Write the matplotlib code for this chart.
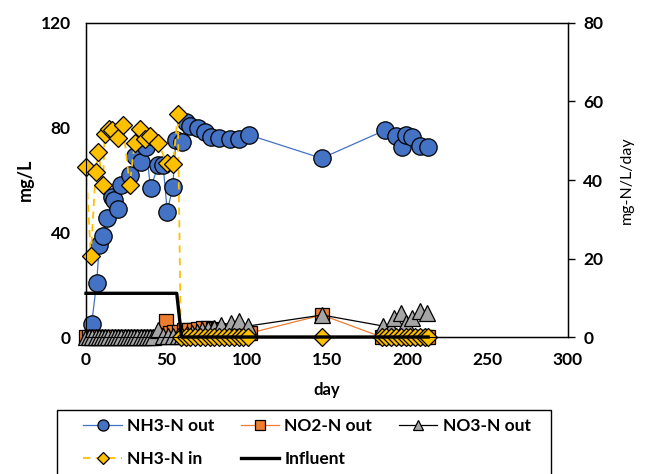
import numpy as np
import matplotlib.pyplot as plt
from matplotlib.lines import Line2D
from matplotlib.patches import Rectangle

plt.rcParams['font.family'] = ['Lato', 'DejaVu Sans']

# NH3-N out (blue circles)
nh3_out_day = [3.5, 6.6, 8.3, 10.4, 13.3, 16, 17.5, 20, 22, 27.4, 30.5, 34.2, 37.3, 40.2,
               45, 48, 50.6, 54, 56, 60, 62, 65, 70, 74, 78, 83, 89.6, 95, 101.6,
               146.7, 186, 193, 196.5, 199.5, 202.7, 208, 213]
nh3_out_val = [5, 20.6, 35, 38.7, 45.4, 53.6, 52.3, 49, 58, 62, 69, 67, 72.7, 56.8,
               65.7, 65.7, 47.9, 57.4, 75.3, 74.6, 82, 80.5, 79.7, 78.5, 76.5, 76, 75.5, 75.7, 77.2,
               68.3, 79, 76.8, 72.7, 77.2, 76.5, 73, 72.7]

# NO2-N out (orange squares)
no2_day = list(range(0, 48, 2)) + [50, 52, 55, 58, 61, 64, 67, 70, 73, 76, 79, 82, 86, 90, 94, 98, 102,
                                   147] + [184, 187, 190, 193, 196, 199, 202, 205, 208, 211, 213]
no2_val = [0] * 24 + [6, 1.5, 2, 2, 2.5, 2.5, 2.7, 3, 3.3, 3.5, 3, 2.5, 2, 2, 1.5, 1.5, 1.5,
                      8.4] + [0] * 11

# NO3-N out (gray triangles)
no3_day = list(range(0, 44, 2)) + [45, 48, 51, 54, 57, 60, 63, 66, 69, 72, 76, 80, 84, 90, 95, 101,
                                   147, 185, 190, 192, 196, 199.5, 202.7, 208, 212]
no3_val = [0] * 22 + [2.5, 0.5, 0.5, 0.5, 0.5, 0.5, 1, 1.5, 2, 2.7, 3, 3.4, 4.6, 5.3, 6, 4.2,
                      8.4, 4.2, 3.4, 7.2, 9.2, 5.4, 7.2, 9.9, 9.2]

# NH3-N in (yellow diamonds)
nh3_in_day = [0, 3, 6, 7.7, 10.6, 11.6, 14.2, 16, 19.8, 23, 27.2, 30.3, 33.6, 37, 39.8, 45, 50.2, 54.2, 57.2,
              59, 62, 65, 68, 71, 74, 77, 80, 83, 86, 89, 92, 95, 98, 101,
              147, 184, 187, 190, 193, 196, 199, 202, 205, 208, 211, 213]
nh3_in_val = [65, 31, 63, 70.8, 58, 77.5, 79.5, 79, 76, 81, 58, 74, 79.4, 75.5, 77, 74.3, 66.4, 66, 85.3] + [0] * 15 + \
             [0] + [0] * 11

# Influent
infl_day = [0, 56.5, 59.5, 213]
infl_val = [16.7, 16.7, 0, 0]

fig = plt.figure(figsize=(6.49, 4.74), dpi=100)
ax = fig.add_axes([0.1325, 0.289, 0.7425, 0.6625])

blue = '#4472C4'
orange = '#ED7D31'
gray = '#A5A5A5'
yellow = '#FFC000'

ax.plot(nh3_out_day, nh3_out_val, color=blue, lw=0.9, marker='o', ms=12.5,
        mfc=blue, mec='black', mew=0.9, clip_on=False, zorder=3)
ax.plot(no2_day, no2_val, color=orange, lw=0.9, marker='s', ms=10.5,
        mfc=orange, mec='black', mew=0.9, clip_on=False, zorder=4)
ax.plot(no3_day, no3_val, color='black', lw=0.9, marker='^', ms=11,
        mfc=gray, mec='black', mew=0.9, clip_on=False, zorder=5)
ax.plot(nh3_in_day, nh3_in_val, color=yellow, lw=1.3, ls=(0, (4, 3)), marker='D', ms=9.5,
        mfc=yellow, mec='black', mew=0.9, clip_on=False, zorder=6)
ax.plot(infl_day, infl_val, color='black', lw=2.4, clip_on=False, zorder=7)

ax.set_xlim(0, 300)
ax.set_ylim(0, 120)
ax.set_xticks([0, 50, 100, 150, 200, 250, 300])
ax.set_yticks([0, 40, 80, 120])
ax.tick_params(axis='both', length=0, labelsize=12.5, pad=11)
for lab in ax.get_xticklabels() + ax.get_yticklabels():
    lab.set_fontweight('bold')
ax.set_xlabel('day', fontsize=12, fontweight='bold', labelpad=10)
ax.set_ylabel('mg/L', fontsize=13, fontweight='bold', labelpad=5)
for s in ax.spines.values():
    s.set_linewidth(1.0)

ax2 = ax.twinx()
ax2.set_ylim(0, 80)
ax2.set_yticks([0, 20, 40, 60, 80])
ax2.tick_params(axis='y', length=5, width=1, labelsize=12.5, pad=6)
for lab in ax2.get_yticklabels():
    lab.set_fontweight('bold')
ax2.set_ylabel('mg-N/L/day', fontsize=11.5, labelpad=12)

handles = [
    Line2D([], [], color=blue, lw=0.9, marker='o', ms=8, mfc=blue, mec='black', mew=0.9),
    Line2D([], [], color=yellow, lw=1.3, ls=(0, (4, 3)), marker='D', ms=6, mfc=yellow, mec='black', mew=0.9),
    Line2D([], [], color=orange, lw=0.9, marker='s', ms=7.5, mfc=orange, mec='black', mew=0.9),
    Line2D([], [], color='black', lw=2.4),
    Line2D([], [], color='black', lw=0.9, marker='^', ms=7.5, mfc=gray, mec='black', mew=0.9),
]
labels = ['NH3-N out', 'NH3-N in', 'NO2-N out', 'Influent', 'NO3-N out']
leg = fig.legend(handles, labels, ncol=3, loc='upper left',
                 bbox_to_anchor=(80 / 649, -0.3, 454 / 649, 0.4245),
                 mode='expand', frameon=False,
                 prop={'weight': 'bold', 'size': 12.5}, handlelength=2.2, handletextpad=0.3,
                 borderaxespad=0, labelspacing=0.95, borderpad=0.2)

# legend box (runs off the bottom edge like the original)
fig.add_artist(Rectangle((57 / 649, -0.1), 494 / 649, 0.235, transform=fig.transFigure,
                         fill=False, edgecolor='black', lw=1.0))

fig.savefig('out.png', dpi=100)
